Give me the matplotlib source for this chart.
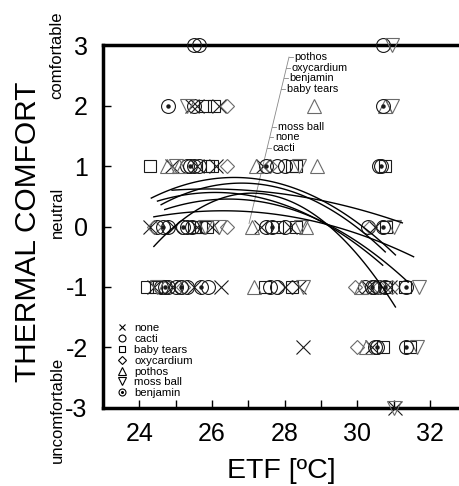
import matplotlib
matplotlib.use("Agg")
import matplotlib.pyplot as plt
from matplotlib.lines import Line2D
import numpy as np

plt.rcParams['font.family'] = ['Liberation Sans', 'DejaVu Sans']
plt.rcParams['axes.unicode_minus'] = False

# thermal comfort votes (ETF, vote) per plant
none_etf = [25.45, 25.6, 26.2, 24.9, 25.6, 26.1, 27.4, 24.3, 24.95, 25.6, 26.0,
            27.35, 28.15, 30.5, 24.4, 24.9, 25.5, 26.25, 28.0, 28.4, 30.3, 30.9,
            28.5, 30.4, 31.05]
none_vote = [2, 2, 2, 1, 1, 1, 1, 0, 0, 0, 0,
             0, 0, 0, -1, -1, -1, -1, -1, -1, -1, -1,
             -2, -2, -3]

cacti_etf = [25.5, 25.65, 30.7, 25.5, 25.3, 25.5, 25.65, 27.8, 28.0, 30.6, 24.5,
             24.8, 25.3, 25.45, 27.5, 28.0, 30.3, 24.6, 24.8, 25.0, 25.3, 25.9,
             27.6, 27.8, 30.2, 30.45, 30.6, 30.5]
cacti_vote = [3, 3, 3, 2, 1, 1, 1, 1, 1, 1, 0,
              0, 0, 0, 0, 0, 0, -1, -1, -1, -1, -1,
              -1, -1, -1, -1, -1, -2]

baby_etf = [25.8, 26.05, 24.3, 25.9, 26.0, 28.2, 28.3, 30.75, 25.5, 25.7, 25.85,
            27.8, 28.3, 30.8, 24.2, 24.45, 27.45, 28.2, 30.8, 31.3, 30.7, 31.45]
baby_vote = [2, 2, 1, 1, 1, 1, 1, 1, 0, 0, 0,
             0, 0, 0, -1, -1, -1, -1, -1, -1, -2, -2]

oxy_etf = [26.4, 26.4, 27.6, 24.4, 26.4, 30.35, 25.2, 29.95, 30.6, 30.95, 30.0]
oxy_vote = [2, 1, 1, 0, 0, 0, -1, -1, -1, -1, -2]

pothos_etf = [28.8, 30.75, 24.75, 25.1, 27.2, 28.9, 27.1, 28.6, 27.15, 30.1, 30.25]
pothos_vote = [2, 2, 1, 1, 1, 1, 0, 0, -1, -1, -2]

moss_etf = [30.95, 25.3, 30.95, 25.0, 28.4, 25.8, 26.2, 28.45, 31.0, 24.5, 28.5,
            31.7, 31.65, 31.0]
moss_vote = [3, 2, 2, 1, 1, 0, 0, 0, 0, -1, -1, -1, -2, -3]

benj_etf = [24.8, 30.7, 25.4, 27.5, 30.65, 24.65, 25.2, 27.65, 30.7, 24.7, 25.15,
            25.7, 30.4, 30.75, 31.35, 30.55, 31.35]
benj_vote = [2, 2, 1, 1, 1, 0, 0, 0, 0, -1, -1,
             -1, -1, -1, -1, -2, -2]

# regression curves: (start, middle, end) points
curve_names = ["pothos", "oxycardium", "benjamin", "baby tears", "moss ball", "none", "cacti"]
curve_x = [[24.9, 27.8, 31.24], [24.33, 27.3, 31.05], [24.6, 27.3, 30.77],
           [24.4, 27.5, 31.55], [24.4, 27.0, 31.05], [24.5, 27.5, 30.7],
           [24.7, 27.6, 31.4]]
curve_y = [[0.60, 0.55, 0.06], [0.47, 0.78, -0.47], [0.36, 0.70, -0.42],
           [0.16, 0.22, -0.50], [-0.33, 0.55, -1.33], [0.42, 0.45, -0.64],
           [0.28, 0.38, -0.92]]

# curve label positions along the leader line
label_y = [2.80, 2.625, 2.45, 2.275, 1.65, 1.475, 1.30]

fig = plt.figure(figsize=(4.59, 4.86), dpi=100)
ax = fig.add_axes([0.2244, 0.1605, 0.7756, 0.7469])

ms = 10
dark = '#1a1a1a'
grey = '#6a6a6a'
kw = dict(ls='none', mfc='none', mew=0.8, clip_on=False, zorder=3)
ax.plot(none_etf, none_vote, marker='x', mec=dark, ms=ms * 0.95, **kw)
ax.plot(cacti_etf, cacti_vote, marker='o', mec=dark, ms=ms, **kw)
ax.plot(baby_etf, baby_vote, marker='s', mec=dark, ms=ms * 0.9, **kw)
ax.plot(oxy_etf, oxy_vote, marker='D', mec=grey, ms=ms * 0.7, **kw)
ax.plot(pothos_etf, pothos_vote, marker='^', mec=grey, ms=ms * 1.05, **kw)
ax.plot(moss_etf, moss_vote, marker='v', mec=grey, ms=ms * 1.05, **kw)
ax.plot(benj_etf, benj_vote, marker='o', mec=dark, ms=ms, **kw)
ax.plot(benj_etf, benj_vote, marker='o', mfc=dark, mec=dark, ms=2.2, ls='none',
        clip_on=False, zorder=3)

for cx, cy in zip(curve_x, curve_y):
    coef = np.polyfit(cx, cy, 2)
    xs = np.linspace(cx[0], cx[-1], 100)
    ax.plot(xs, np.polyval(coef, xs), color='black', lw=1.0, zorder=4)

# leader line with labels
lx0, ly0, lx1, ly1 = 27.02, 0.05, 28.12, 2.80
ax.plot([lx0, lx1], [ly0, ly1], color='#888888', lw=0.6, zorder=2)
for name, yy in zip(curve_names, label_y):
    xx = lx0 + (yy - ly0) / (ly1 - ly0) * (lx1 - lx0)
    ax.plot([xx, xx + 0.1], [yy, yy], color='#888888', lw=0.6)
    ax.text(xx + 0.15, yy, name, fontsize=7.8, va='center', ha='left')

ax.set_xlim(23, 32.8)
ax.set_ylim(-3, 3)
ax.set_xticks(np.arange(24, 33, 1))
ax.set_xticklabels([str(v) if v % 2 == 0 else '' for v in range(24, 33)])
ax.set_yticks(np.arange(-3, 4, 1))
ax.tick_params(axis='both', direction='in', length=6, width=1, labelsize=18)
ax.tick_params(axis='y', pad=11)
ax.tick_params(axis='x', pad=10)
ax.spines['right'].set_visible(False)
for s in ['left', 'bottom', 'top']:
    ax.spines[s].set_linewidth(2.5)

ax.set_xlabel('ETF [ºC]', fontsize=20.5, labelpad=9)
fig.text(28 / 459, 1 - 232 / 486, 'THERMAL COMFORT', rotation=90, fontsize=21.5,
         ha='center', va='center')
fig.text(57 / 459, 1 - 55 / 486, 'comfortable', rotation=90, fontsize=12,
         ha='center', va='center')
fig.text(57 / 459, 1 - 212 / 486, 'neutral', rotation=90, fontsize=12,
         ha='center', va='center')
fig.text(57 / 459, 1 - 410 / 486, 'uncomfortable', rotation=90, fontsize=12,
         ha='center', va='center')

lk = dict(ls='none', mfc='none', mec='black', mew=0.8)
handles = [Line2D([], [], marker='x', ms=5, **lk),
           Line2D([], [], marker='o', ms=5, **lk),
           Line2D([], [], marker='s', ms=5, **lk),
           Line2D([], [], marker='D', ms=3.6, **lk),
           Line2D([], [], marker='^', ms=5.5, **lk),
           Line2D([], [], marker='v', ms=5.5, **lk),
           (Line2D([], [], marker='o', ms=5, **lk),
            Line2D([], [], marker='o', ms=1.2, ls='none', color='black'))]
labels = ['none', 'cacti', 'baby tears', 'oxycardium', 'pothos', 'moss ball', 'benjamin']
ax.legend(handles, labels, loc='upper left', bbox_to_anchor=(0.04, 0.233),
          frameon=False, fontsize=8.2, handlelength=0.8, handletextpad=0.7,
          labelspacing=0.07, borderpad=0, borderaxespad=0)

fig.savefig('out.png', dpi=100)
